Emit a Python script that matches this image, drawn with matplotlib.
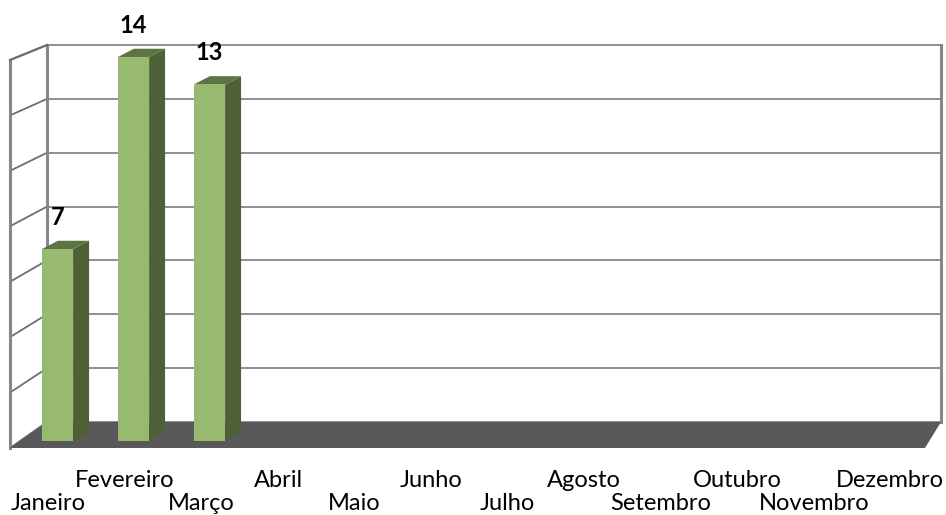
import numpy as np
import matplotlib.pyplot as plt
from matplotlib.patches import Polygon

# Dados
meses = ["Janeiro", "Fevereiro", "Março", "Abril", "Maio", "Junho",
         "Julho", "Agosto", "Setembro", "Outubro", "Novembro", "Dezembro"]
valores = [7, 14, 13]
ticks = [0, 2, 4, 6, 8, 10, 12, 14]

# Geometria do "3D" (unidades de dados)
larg = 0.41          # largura da barra
dx, dy = 0.21, 0.30  # profundidade da barra
xf_esq, xf_dir, yf_chao = -0.625, 11.414, -0.255   # plano da frente
xb_esq, xb_dir = -0.138, 11.625                     # plano de fundo
yb_chao, yb_topo = 0.693, 14.437
yf_topo = 13.89
vmax = 14

cinza = "#878787"
verde = "#97B970"
verde_lado = "#4E6036"
verde_topo = "#5D7342"

fig = plt.figure(figsize=(9.46, 5.15), dpi=100)
ax = fig.add_axes([0, 0, 1, 1])
ax.set_xlim(-0.757, 11.691)
ax.set_ylim(-2.698, 16.077)
ax.axis("off")

# Parede de fundo
ax.add_patch(Polygon([(xb_esq, yb_chao), (xb_dir, yb_chao), (xb_dir, yb_topo), (xb_esq, yb_topo)],
                     closed=True, facecolor="white", edgecolor="none", zorder=1))
for t in ticks:
    yb = yb_chao + t * (yb_topo - yb_chao) / vmax
    yf = yf_chao + t * (yf_topo - yf_chao) / vmax
    ax.plot([xb_esq, xb_dir], [yb, yb], color=cinza, lw=1.3, zorder=2)
    ax.plot([xf_esq, xb_esq], [yf, yb], color="#6E6E6E", lw=1.3, zorder=2)
ax.plot([xb_dir, xb_dir], [yb_chao, yb_topo], color=cinza, lw=2.2, zorder=2)
ax.plot([xb_esq, xb_esq], [yb_chao, yb_topo], color=cinza, lw=2.2, zorder=2)
ax.plot([xf_esq, xf_esq], [yf_chao, yf_topo], color=cinza, lw=2.2, zorder=2)
ax.plot([xf_esq, xb_esq], [yf_topo, yb_topo], color="#6E6E6E", lw=1.5, zorder=2)

# Chao
ax.add_patch(Polygon([(xf_esq, yf_chao), (xf_dir, yf_chao), (xb_dir, yb_chao), (xb_esq, yb_chao)],
                     closed=True, facecolor="#595959", edgecolor="none", zorder=3))

# Barras
x = np.arange(len(valores))
ax.bar(x, valores, width=larg, color=verde, zorder=6)
for xi, v in zip(x, valores):
    d = xi + larg / 2
    e = xi - larg / 2
    ax.add_patch(Polygon([(d, 0), (d + dx, dy), (d + dx, v + dy), (d, v)],
                         closed=True, facecolor=verde_lado, edgecolor="none", zorder=5))
    ax.add_patch(Polygon([(e, v), (d, v), (d + dx, v + dy), (e + dx, v + dy)],
                         closed=True, facecolor=verde_topo, edgecolor="none", zorder=5))
    ax.text(xi, v + 0.89, str(v), ha="center", va="baseline", fontsize=17,
            fontweight="bold", family="Lato", zorder=7)

# Rotulos dos meses (alternados em duas linhas)
for i, m in enumerate(meses):
    y = -1.677 if i % 2 else -2.515
    ax.text(i - 0.12 + 0.007 * i, y, m, ha="center", va="baseline", fontsize=17, family="Lato")

plt.savefig("out.png", dpi=100)
